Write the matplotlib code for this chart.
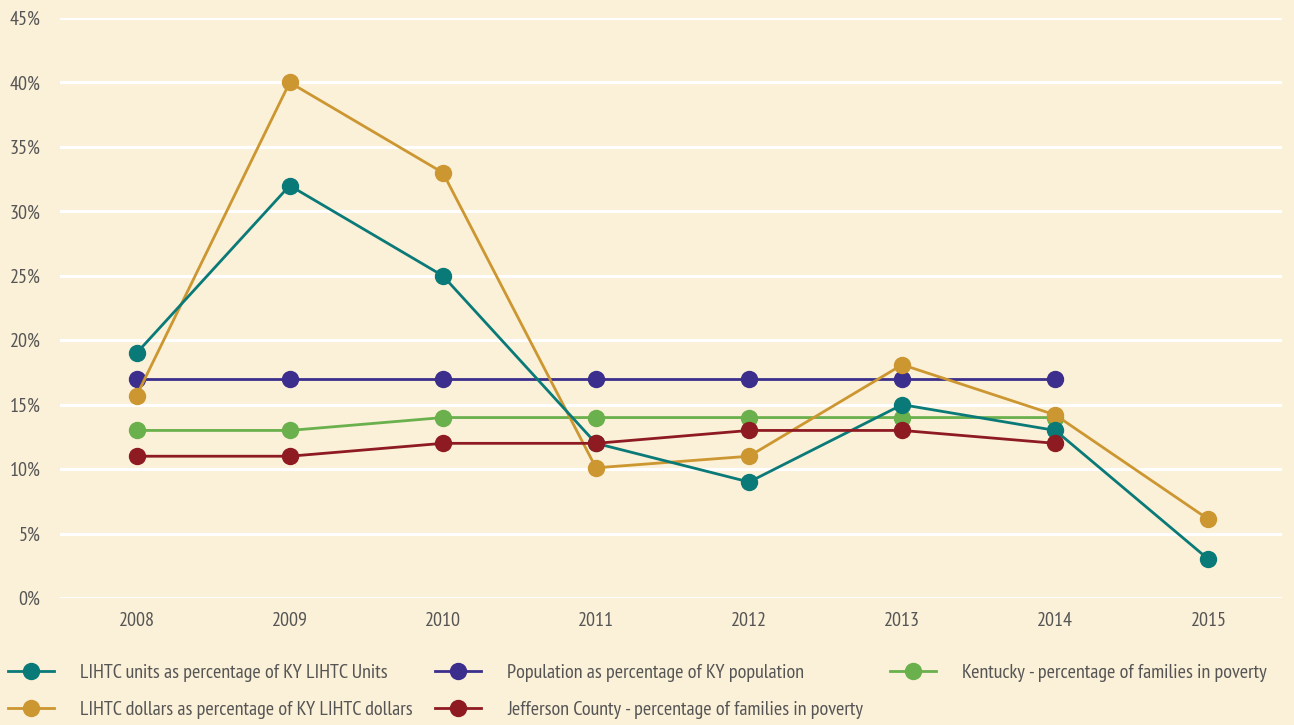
import matplotlib
matplotlib.use("Agg")
import matplotlib.pyplot as plt
from matplotlib.ticker import MultipleLocator, FuncFormatter

years = [2008, 2009, 2010, 2011, 2012, 2013, 2014, 2015]
years_short = [2008, 2009, 2010, 2011, 2012, 2013, 2014]
lihtc_units = [19, 32, 25, 12, 9, 15, 13, 3]
lihtc_dollars = [15.7, 40, 33, 10.1, 11, 18.1, 14.2, 6.1]
population = [17, 17, 17, 17, 17, 17, 17]
ky_poverty = [13, 13, 14, 14, 14, 14, 14]
jeff_poverty = [11, 11, 12, 12, 13, 13, 12]

labels = [
    "LIHTC units as percentage of KY LIHTC Units",
    "LIHTC dollars as percentage of KY LIHTC dollars",
    "Population as percentage of KY population",
    "Jefferson County - percentage of families in poverty",
    "Kentucky - percentage of families in poverty",
]

c_teal = "#0a7a78"
c_gold = "#cc9630"
c_purple = "#3b2e8c"
c_red = "#8e1a22"
c_green = "#6ab04c"
bg = "#fbf0d8"
txt = "#555555"

plt.rcParams['font.family'] = ['PT Sans Narrow', 'DejaVu Sans']

W, H = 1294, 725
fig = plt.figure(figsize=(W / 100, H / 100), dpi=100, facecolor=bg)
ax = fig.add_axes([60 / W, 1 - 598 / H, (1282 - 60) / W, (598 - 18) / H])
ax.set_facecolor(bg)

lw = 2.0
ms = 11.5
h_green, = ax.plot(years_short, ky_poverty, color=c_green, lw=lw, marker='o', ms=ms, zorder=3)
h_purple, = ax.plot(years_short, population, color=c_purple, lw=lw, marker='o', ms=ms, zorder=3)
h_gold, = ax.plot(years, lihtc_dollars, color=c_gold, lw=lw, marker='o', ms=ms, zorder=4)
h_teal, = ax.plot(years, lihtc_units, color=c_teal, lw=lw, marker='o', ms=ms, zorder=5)
h_red, = ax.plot(years_short, jeff_poverty, color=c_red, lw=lw, marker='o', ms=ms, zorder=6)

ax.set_xlim(2007.5, 2015.48)
ax.set_ylim(0, 45)
ax.yaxis.set_major_locator(MultipleLocator(5))
ax.yaxis.set_major_formatter(FuncFormatter(lambda v, p: f"{int(round(v))}%"))
ax.set_xticks(years)
ax.grid(axis='y', color='white', lw=2.2, zorder=0)
ax.set_axisbelow(True)
for s in ax.spines.values():
    s.set_visible(False)
ax.tick_params(axis='both', length=0, labelsize=14.5, labelcolor=txt)
ax.tick_params(axis='y', pad=14)
ax.tick_params(axis='x', pad=10)

# legend: three columns at fixed positions
columns = [
    (8, [(h_teal, labels[0]), (h_gold, labels[1])]),
    (435, [(h_purple, labels[2]), (h_red, labels[3])]),
    (890, [(h_green, labels[4])]),
]
fs = 14.5
for x0, items in columns:
    leg = fig.legend(handles=[h for h, _ in items], labels=[l for _, l in items],
                     loc='upper left', bbox_to_anchor=(x0 / W, 1 - 664 / H),
                     frameon=False, fontsize=fs, handlelength=2.3, handletextpad=1.3,
                     labelspacing=0.92, borderaxespad=0, borderpad=0)
    for t in leg.get_texts():
        t.set_color(txt)
    for h in leg.legend_handles:
        h.set_markersize(ms)

fig.savefig("out.png", dpi=100, facecolor=bg)
